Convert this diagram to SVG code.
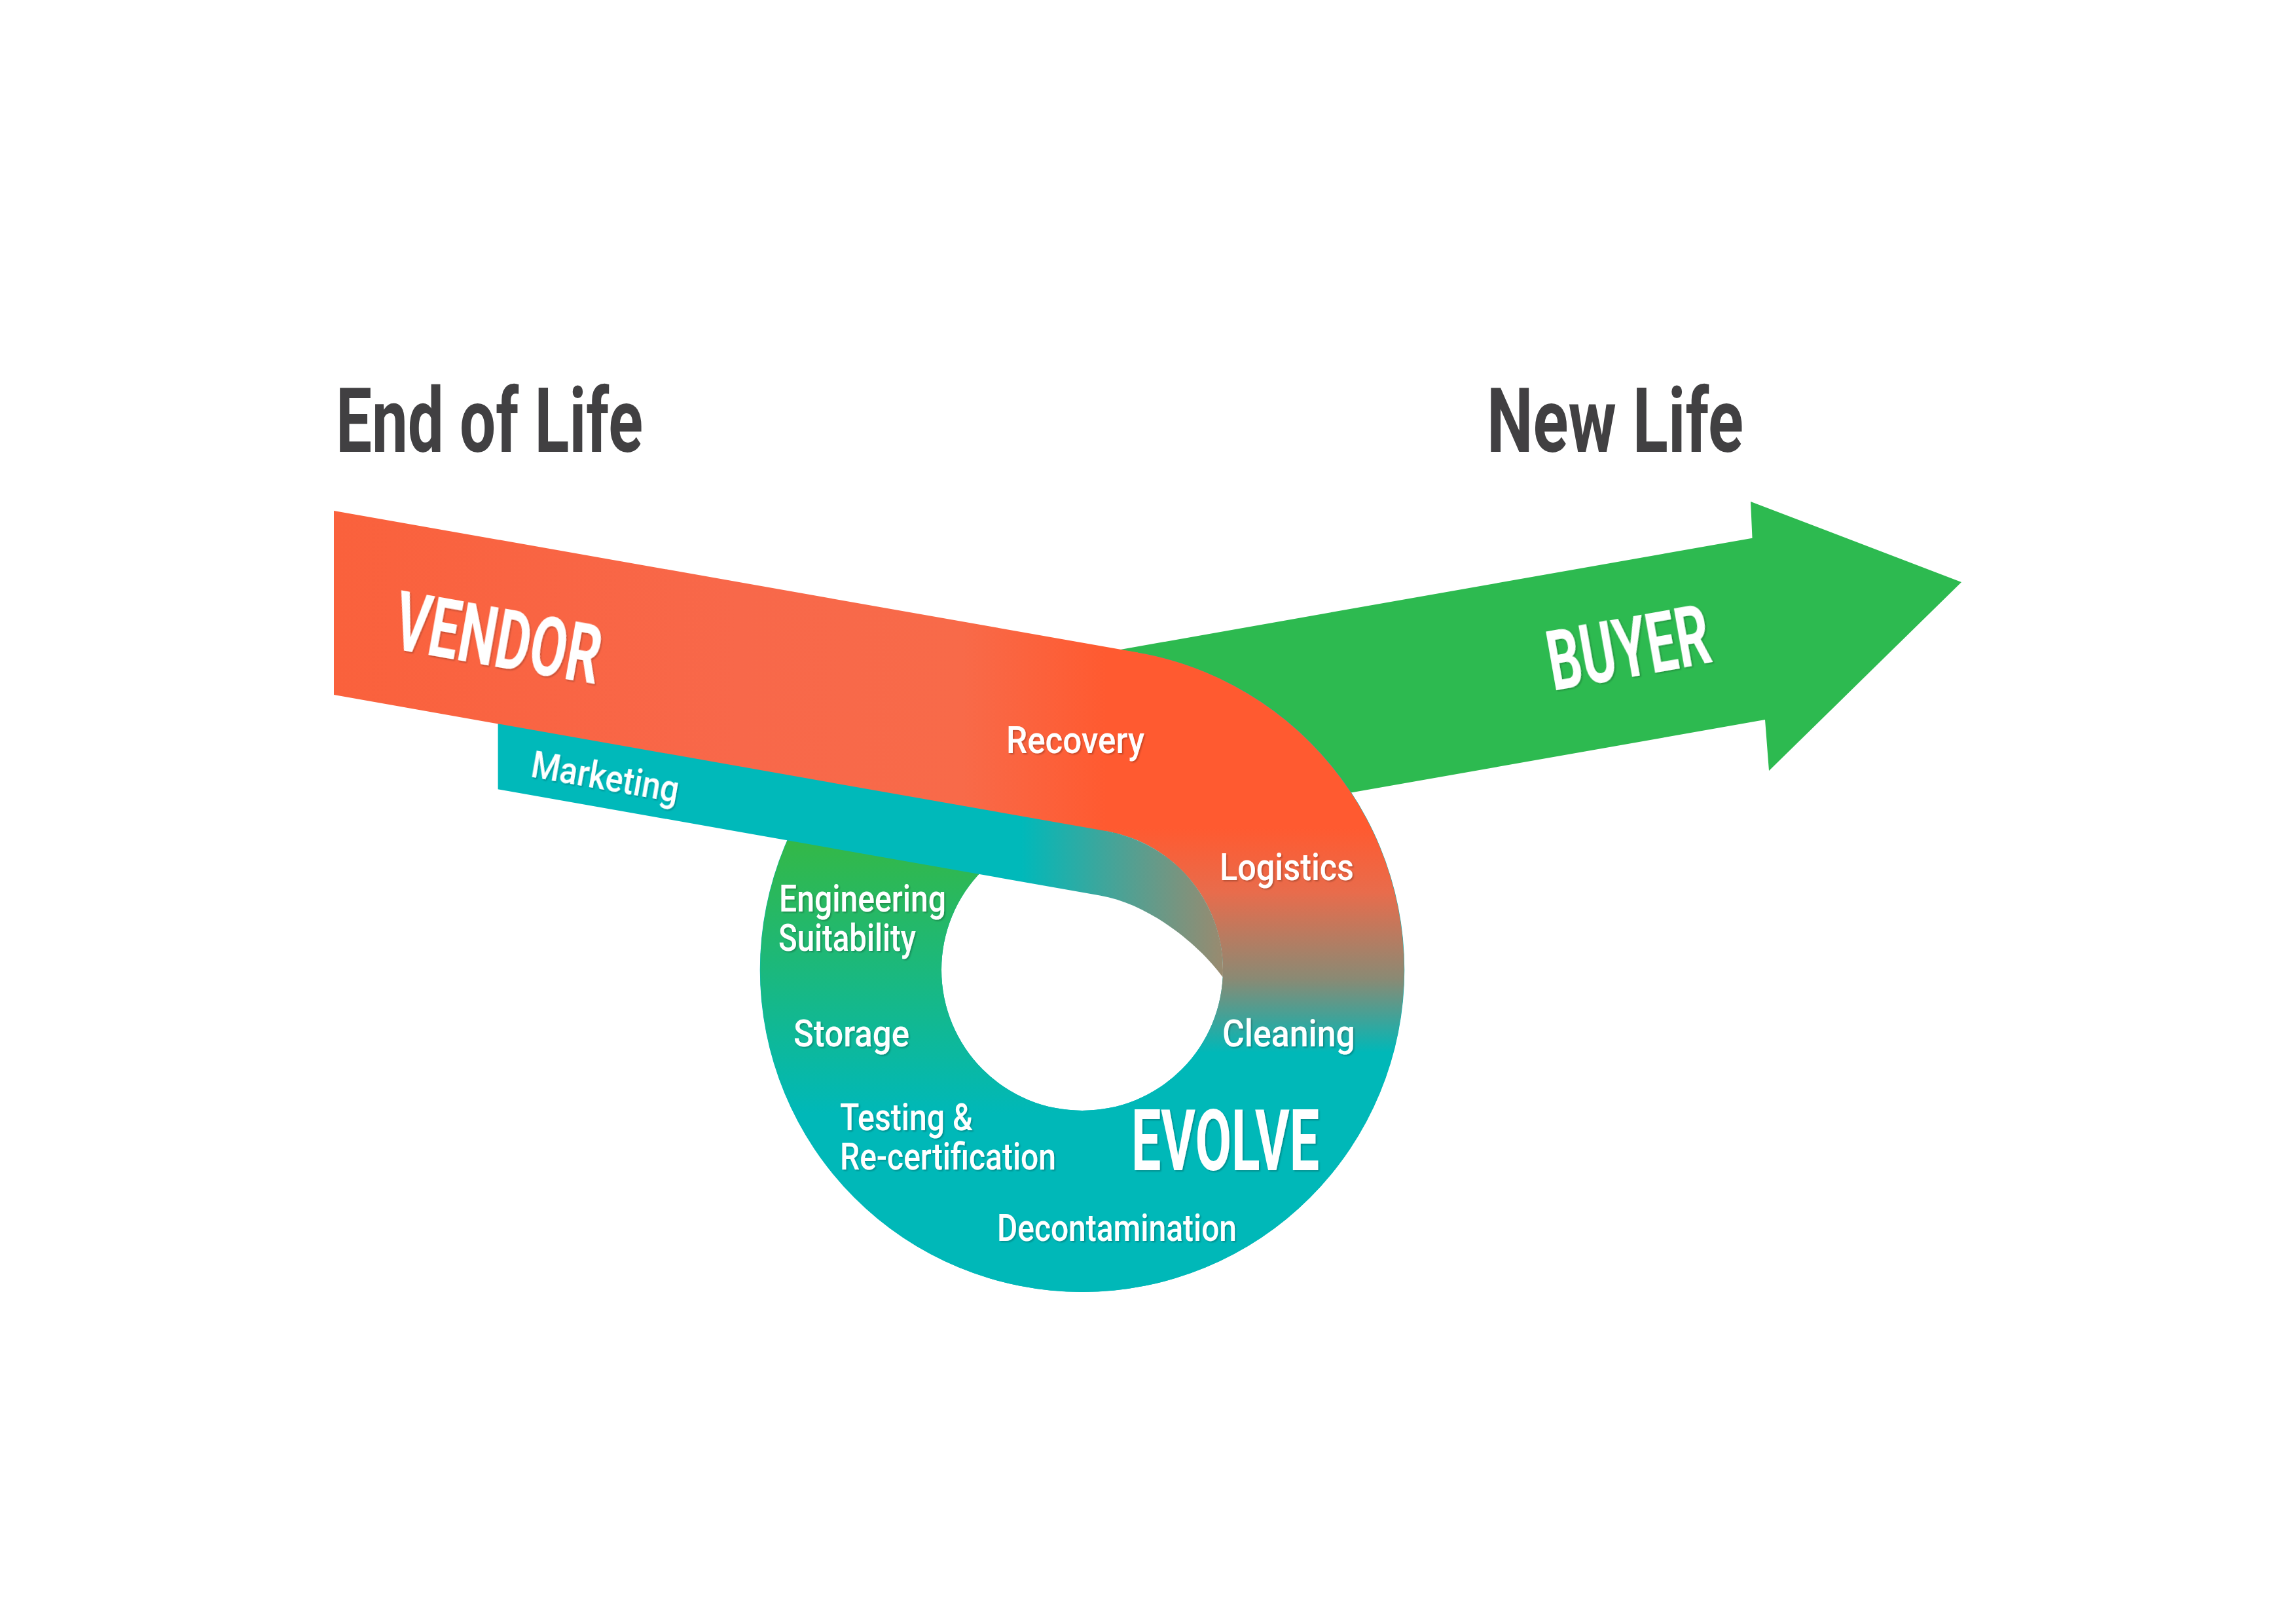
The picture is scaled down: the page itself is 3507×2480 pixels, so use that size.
<svg xmlns="http://www.w3.org/2000/svg" width="3507" height="2480" viewBox="0 0 3507 2480">
  <defs>
    <linearGradient id="gOrange" gradientUnits="userSpaceOnUse" x1="510" y1="0" x2="1740" y2="0">
      <stop offset="0" stop-color="#fa613c"/>
      <stop offset="0.5" stop-color="#f8684a"/>
      <stop offset="0.78" stop-color="#f86a49"/>
      <stop offset="0.96" stop-color="#ff5a30"/>
      <stop offset="1" stop-color="#ff5a30"/>
    </linearGradient>
    <linearGradient id="gRight" gradientUnits="userSpaceOnUse" x1="0" y1="1000" x2="0" y2="1660">
      <stop offset="0" stop-color="#ff5a30"/>
      <stop offset="0.40" stop-color="#ff5a30"/>
      <stop offset="0.55" stop-color="#e86c4c"/>
      <stop offset="0.75" stop-color="#8a8a74"/>
      <stop offset="0.92" stop-color="#00b8b8"/>
      <stop offset="1" stop-color="#00b8b8"/>
    </linearGradient>
    <linearGradient id="gLeft" gradientUnits="userSpaceOnUse" x1="0" y1="1280" x2="0" y2="1700">
      <stop offset="0" stop-color="#34b846"/>
      <stop offset="1" stop-color="#00b8b8"/>
    </linearGradient>
    <linearGradient id="gTeal" gradientUnits="userSpaceOnUse" x1="1560" y1="0" x2="1870" y2="0">
      <stop offset="0" stop-color="#00b9ba"/>
      <stop offset="1" stop-color="#9a8a6f"/>
    </linearGradient>
    <filter id="sh" x="-10%" y="-20%" width="120%" height="150%">
      <feDropShadow dx="2" dy="2" stdDeviation="1" flood-color="#000" flood-opacity="0.22"/>
    </filter>
  </defs>
  <style>
    .title { font-family: Roboto, "Liberation Sans", Arial, sans-serif; font-weight: 700; font-size: 137px; fill: #414042; }
    .big { font-family: Roboto, "Liberation Sans", Arial, sans-serif; font-weight: 700; fill: #ffffff; filter: url(#sh); }
    .lbl { font-family: Roboto, "Liberation Sans", Arial, sans-serif; font-weight: 500; font-size: 57px; fill: #ffffff; filter: url(#sh); }
  </style>
  <rect width="3507" height="2480" fill="#ffffff"/>

  <g id="titles">
    <text class="title" x="513" y="690" textLength="469" lengthAdjust="spacingAndGlyphs">End of Life</text>
    <text class="title" x="2271" y="690" textLength="392" lengthAdjust="spacingAndGlyphs">New Life</text>
  </g>

  <g id="buyer-arrow">
    <polygon points="1700,993.9 2676.5,821.7 2674,766 2996,889 2702,1177 2696,1099 1700,1274.6" fill="#2dba50"/>
  </g>

  <g id="evolve-ring">
    <path d="M 1653,989 A 492 492 0 1 1 1653,1973 A 492 492 0 1 1 1653,989 Z M 1653,1266 A 215 215 0 1 0 1653,1696 A 215 215 0 1 0 1653,1266 Z" fill="#00b8b8" fill-rule="evenodd"/>
    <path d="M 1653,1973 A 492 492 0 0 1 1653,989 L 1653,1266 A 215 215 0 0 0 1653,1696 Z" fill="url(#gLeft)"/>
    <path d="M 1653,989 A 492 492 0 0 1 1653,1973 L 1653,1696 A 215 215 0 0 0 1653,1266 Z" fill="url(#gRight)"/>
  </g>

  <g id="marketing-band">
    <path d="M 760.6,1101.3 L 1690.3,1265.3 L 1690.3,1269.3 A 215 215 0 0 1 1867.7,1492.3 C 1836,1447.4 1758.8,1380.7 1680,1367.5 L 760.6,1205.3 Z" fill="url(#gTeal)"/>
  </g>

  <g id="vendor-band">
    <polygon points="510,779.9 1738.4,996.5 1690.3,1269.3 510,1061.1" fill="url(#gOrange)"/>
  </g>

  <g id="labels">
    <text class="big" font-size="127" transform="translate(597,990) rotate(10)" textLength="318" lengthAdjust="spacingAndGlyphs">VENDOR</text>
    <text class="big" font-size="128" transform="translate(2372,1055) rotate(-10)" textLength="250" lengthAdjust="spacingAndGlyphs">BUYER</text>
    <text class="big" font-size="129" x="1728" y="1787" textLength="287" lengthAdjust="spacingAndGlyphs">EVOLVE</text>
    <text class="lbl" font-size="54" transform="translate(809,1186) rotate(10)" textLength="228" lengthAdjust="spacingAndGlyphs">Marketing</text>
    <text class="lbl" x="1537" y="1150" textLength="211" lengthAdjust="spacingAndGlyphs">Recovery</text>
    <text class="lbl" x="1863" y="1343.5" textLength="205" lengthAdjust="spacingAndGlyphs">Logistics</text>
    <text class="lbl" x="1190" y="1392" textLength="255" lengthAdjust="spacingAndGlyphs">Engineering</text>
    <text class="lbl" x="1189" y="1452" textLength="210" lengthAdjust="spacingAndGlyphs">Suitability</text>
    <text class="lbl" x="1212" y="1598" textLength="177" lengthAdjust="spacingAndGlyphs">Storage</text>
    <text class="lbl" x="1867" y="1598" textLength="203" lengthAdjust="spacingAndGlyphs">Cleaning</text>
    <text class="lbl" x="1283" y="1725.6" textLength="203" lengthAdjust="spacingAndGlyphs">Testing &amp;</text>
    <text class="lbl" x="1283" y="1786" textLength="330" lengthAdjust="spacingAndGlyphs">Re-certification</text>
    <text class="lbl" x="1523" y="1895" textLength="366" lengthAdjust="spacingAndGlyphs">Decontamination</text>
  </g>
</svg>
